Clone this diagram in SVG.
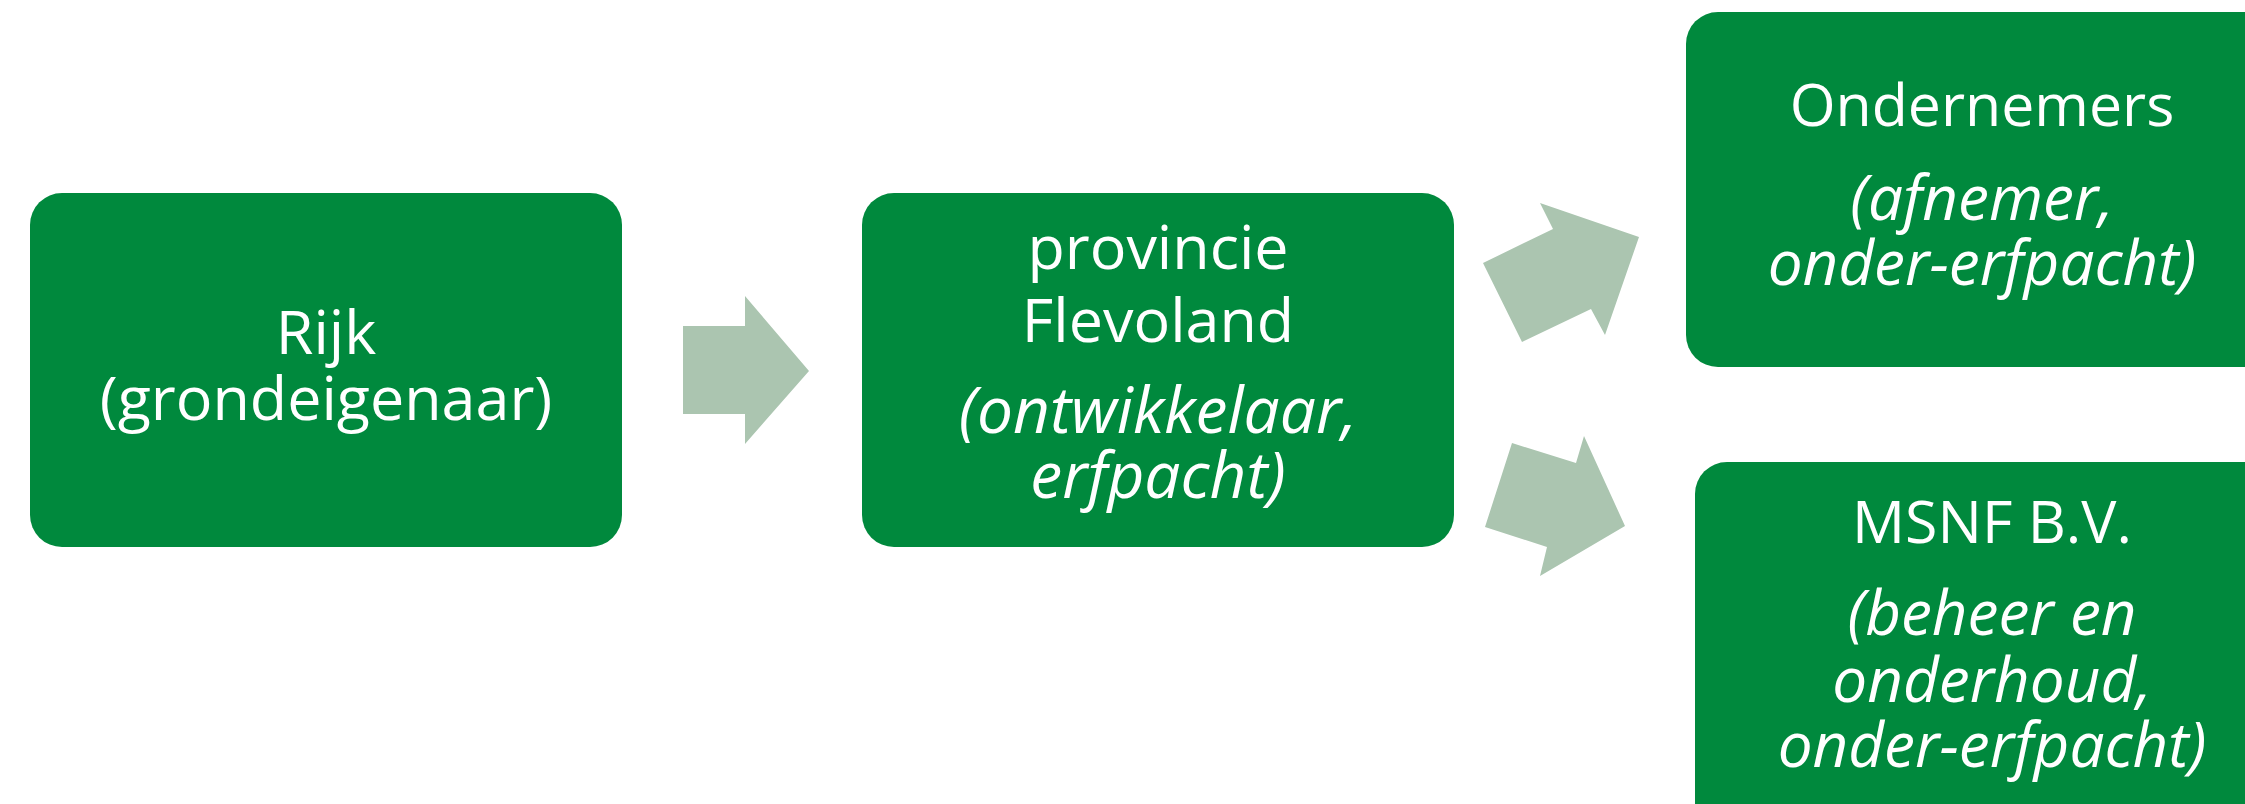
<svg xmlns="http://www.w3.org/2000/svg" width="2245" height="804" viewBox="0 0 2245 804">
<style>
.box{fill:#00893D;}
.arr{fill:#ABC5B0;}
text{font-family:"Open Sans","Noto Sans",sans-serif;fill:#FFFFFF;text-anchor:middle;}
.it{font-style:italic;}
.big{font-size:61px;}
.bigi{font-size:64px;font-style:italic;}
.med{font-size:59px;}
.medi{font-size:62px;font-style:italic;}
</style>
<rect width="2245" height="804" fill="#FFFFFF"/>
<g id="connectors">
<polygon class="arr" points="683,326 745,326 745,296 809,371 745,444 745,414 683,414"/>
<polygon class="arr" points="1483,263 1553,229 1540,203 1639,237 1605,335 1591,309 1522,342"/>
<polygon class="arr" points="1512,443 1576,463 1584,436 1625,526 1540,576 1547,547 1485,527"/>
</g>
<g id="node-rijk">
<rect class="box" x="30" y="193" width="592" height="354" rx="32"/>
<text class="big" x="326" y="354">Rijk</text>
<text class="big" x="326" y="420">(grondeigenaar)</text>
</g>
<g id="node-provincie">
<rect class="box" x="862" y="193" width="592" height="354" rx="32"/>
<text class="big" x="1158" y="269">provincie</text>
<text class="big" x="1158" y="342">Flevoland</text>
<text class="bigi" x="1158" y="433">(ontwikkelaar,</text>
<text class="bigi" x="1158" y="498">erfpacht)</text>
</g>
<g id="node-ondernemers">
<rect class="box" x="1686" y="12" width="592" height="355" rx="32"/>
<text class="med" x="1982" y="126">Ondernemers</text>
<text class="medi" x="1982" y="220">(afnemer,</text>
<text class="medi" x="1982" y="285">onder-erfpacht)</text>
</g>
<g id="node-msnf">
<rect class="box" x="1695" y="462" width="592" height="400" rx="32"/>
<text class="med" x="1992" y="543">MSNF B.V.</text>
<text class="medi" x="1992" y="635">(beheer en</text>
<text class="medi" x="1992" y="702">onderhoud,</text>
<text class="medi" x="1992" y="767">onder-erfpacht)</text>
</g>
</svg>
